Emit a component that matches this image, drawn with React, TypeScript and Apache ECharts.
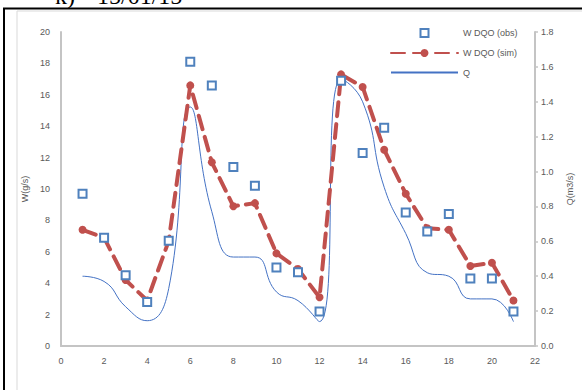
import React, { useEffect, useRef } from "react";
import * as echarts from "echarts";

const xs = [1, 2, 3, 4, 5, 6, 7, 8, 9, 10, 11, 12, 13, 14, 15, 16, 17, 18, 19, 20, 21];
const obsValues = [9.7, 6.9, 4.5, 2.8, 6.7, 18.1, 16.6, 11.4, 10.2, 5.0, 4.7, 2.2, 16.9, 12.3, 13.9, 8.5, 7.3, 8.4, 4.3, 4.3, 2.2];
const simValues = [7.4, 6.9, 4.2, 2.9, 6.7, 16.6, 11.7, 8.9, 9.1, 5.9, 4.9, 3.1, 17.3, 16.5, 12.5, 9.7, 7.5, 7.4, 5.1, 5.3, 2.9];
const qValues = [0.4, 0.37, 0.225, 0.145, 0.33, 1.37, 0.77, 0.51, 0.51, 0.31, 0.26, 0.14, 1.53, 1.4, 0.91, 0.645, 0.42, 0.4, 0.27, 0.27, 0.14];
const seriesNames = ["W DQO (obs)", "W DQO (sim)", "Q"];
const titleLabel = "k)";
const titleDate = "15/01/15";
const leftAxisName = "W(g/s)";
const rightAxisName = "Q(m3/s)";

const labelColor = "#595959";
const axisColor = "#c4c4c4";
const font = "Liberation Sans";

export default function App() {
  const ref = useRef<HTMLDivElement>(null);
  useEffect(() => {
    if (!ref.current) return;
    const chart = echarts.init(ref.current, undefined, { renderer: "svg" });
    const pairs = (vals: number[]) => xs.map((x, i) => [x, vals[i]]);
    chart.setOption({
      animation: false,
      backgroundColor: "#ffffff",
      textStyle: { fontFamily: font },
      grid: { left: 61, right: 32, top: 32, bottom: 44, containLabel: false },
      legend: {
        orient: "vertical",
        left: 385,
        top: 23,
        itemWidth: 67,
        itemHeight: 10,
        itemGap: 10.5,
        textStyle: { color: labelColor, fontSize: 9, fontFamily: font },
        data: [
          seriesNames[0],
          seriesNames[1],
          { name: seriesNames[2], itemStyle: { opacity: 0 } },
        ],
      },
      xAxis: {
        type: "value",
        min: 0,
        max: 22,
        interval: 2,
        axisLine: { show: true, lineStyle: { color: axisColor, width: 2 } },
        axisTick: { show: false },
        splitLine: { show: false },
        axisLabel: { color: labelColor, fontSize: 9, margin: 10, fontFamily: font },
      },
      yAxis: [
        {
          type: "value",
          min: 0,
          max: 20,
          interval: 2,
          name: leftAxisName,
          nameLocation: "middle",
          nameGap: 26,
          nameRotate: 90,
          nameTextStyle: { color: labelColor, fontSize: 9, fontFamily: font },
          axisLine: { show: true, lineStyle: { color: axisColor, width: 2 } },
          axisTick: { show: false },
          splitLine: { show: false },
          axisLabel: { color: labelColor, fontSize: 9, margin: 11, fontFamily: font },
        },
        {
          type: "value",
          min: 0,
          max: 1.8,
          interval: 0.2,
          position: "right",
          name: rightAxisName,
          nameLocation: "middle",
          nameGap: 30,
          nameRotate: 90,
          nameTextStyle: { color: labelColor, fontSize: 9, fontFamily: font },
          axisLine: { show: true, lineStyle: { color: axisColor, width: 2 } },
          axisTick: { show: true, length: 3, lineStyle: { color: axisColor, width: 1.5 } },
          splitLine: { show: false },
          axisLabel: {
            color: labelColor,
            fontSize: 9,
            margin: 6,
            fontFamily: font,
            formatter: (v: number) => v.toFixed(1),
          },
        },
      ],
      series: [
        {
          name: seriesNames[2],
          type: "line",
          yAxisIndex: 1,
          data: pairs(qValues),
          smooth: 0.5,
          symbol: "none",
          lineStyle: { color: "#4472c4", width: 1 },
          itemStyle: { color: "#4472c4" },
          z: 2,
        },
        {
          name: seriesNames[1],
          type: "line",
          data: pairs(simValues),
          symbol: "circle",
          symbolSize: 8,
          lineStyle: { color: "#c0504d", width: 4, type: [14, 8], cap: "round" },
          itemStyle: { color: "#c0504d" },
          z: 3,
        },
        {
          name: seriesNames[0],
          type: "line",
          data: pairs(obsValues),
          symbol: "rect",
          symbolSize: 8,
          lineStyle: { opacity: 0, width: 0 },
          itemStyle: { color: "#ffffff", borderColor: "#4f81bd", borderWidth: 2 },
          z: 4,
        },
      ],
      graphic: [
        {
          type: "rect",
          shape: { x: 17, y: 11, width: 600, height: 400 },
          style: { fill: "none", stroke: "#d9d9d9", lineWidth: 1 },
          silent: true,
          z: -10,
        },
        {
          type: "line",
          shape: { x1: 3, y1: 8.5, x2: 582, y2: 8.5 },
          style: { stroke: "#000000", lineWidth: 2 },
          silent: true,
        },
        {
          type: "line",
          shape: { x1: 4, y1: 8, x2: 4, y2: 390 },
          style: { stroke: "#000000", lineWidth: 2 },
          silent: true,
        },
        {
          type: "text",
          x: 55,
          y: 8,
          style: {
            text: titleLabel,
            fontFamily: "Liberation Serif",
            fontSize: 24,
            fill: "#000000",
            verticalAlign: "bottom",
            align: "left",
          },
          silent: true,
        },
        {
          type: "text",
          x: 97,
          y: 8,
          style: {
            text: titleDate,
            fontFamily: "Liberation Serif",
            fontSize: 24,
            fill: "#000000",
            verticalAlign: "bottom",
            align: "left",
          },
          silent: true,
        },
      ],
    });
    return () => chart.dispose();
  }, []);
  return (
    <div
      ref={ref}
      style={{ position: "fixed", left: 0, top: 0, width: 582, height: 390, background: "#fff" }}
    />
  );
}
